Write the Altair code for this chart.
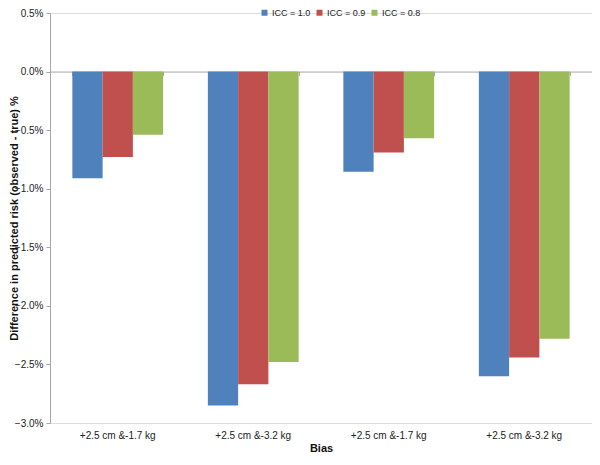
import altair as alt
import pandas as pd

categories = ["+2.5 cm &-1.7 kg", "+2.5 cm &-3.2 kg", "+2.5 cm &-1.7 kg", "+2.5 cm &-3.2 kg"]
series = ["ICC = 1.0", "ICC = 0.9", "ICC = 0.8"]
icc_10 = [-0.0091, -0.0285, -0.00855, -0.0260]
icc_09 = [-0.0073, -0.0267, -0.0069, -0.0244]
icc_08 = [-0.0054, -0.0248, -0.0057, -0.0228]
colors = ["#4F81BD", "#C0504D", "#9BBB59"]
y_ticks = [0.005, 0.0, -0.005, -0.01, -0.015, -0.02, -0.025, -0.03]

rows = []
for s, vals in zip(series, [icc_10, icc_09, icc_08]):
    for i, v in enumerate(vals):
        rows.append({"group": i, "icc": s, "value": v})
df = pd.DataFrame(rows)

H = 410
W = 542
PAD_TOP = 5
ymin, ymax = -0.03, 0.005
zero_offset = -H * (0 - ymin) / (ymax - ymin)

label_expr = "[" + ",".join("'" + c + "'" for c in categories) + "][datum.value]"
FONT = "Liberation Sans"
GRAY = "#A6A6A6"

yenc = alt.Y("value:Q",
             scale=alt.Scale(domain=[ymin, ymax], nice=False, zero=False),
             axis=alt.Axis(values=y_ticks, format=".1%", grid=False,
                           title="Difference in predicted risk (observed - true) %",
                           titleFontWeight="bold", titleFontSize=11, titleFont=FONT,
                           titleColor="#111", titleX=-36, titleY=H / 2,
                           titleAngle=270, titleBaseline="middle", titleAlign="center",
                           labelFontSize=10, labelFont=FONT, labelColor="#222",
                           domainColor=GRAY, tickColor=GRAY, tickSize=4,
                           labelPadding=3))

bars = alt.Chart(df).mark_bar().encode(
    x=alt.X("group:N", scale=alt.Scale(paddingInner=0.33, paddingOuter=0.165),
            axis=alt.Axis(orient="bottom", labelExpr=label_expr, labelAngle=0,
                          domain=False, ticks=False, tickSize=0, labelPadding=7,
                          labelFontSize=10, labelFont=FONT, labelColor="#222",
                          labelBaseline="top",
                          title="Bias", titleFontWeight="bold", titleFontSize=11,
                          titleFont=FONT, titleColor="#111", titlePadding=2)),
    xOffset=alt.XOffset("icc:N", sort=series, scale=alt.Scale(domain=series, paddingInner=0, paddingOuter=0)),
    y=yenc,
    color=alt.Color("icc:N", scale=alt.Scale(domain=series, range=colors),
                    legend=alt.Legend(orient="none", direction="horizontal",
                                      legendX=210, legendY=-PAD_TOP, title=None,
                                      symbolType="square", symbolSize=36,
                                      symbolStrokeWidth=0, labelFontSize=9,
                                      labelFont=FONT, labelColor="#222",
                                      columnPadding=4, labelOffset=3)),
)

zero_axis = alt.Chart(df).mark_bar(opacity=0).encode(
    x=alt.X("group:N", scale=alt.Scale(paddingInner=0.33, paddingOuter=0.165),
            axis=alt.Axis(orient="bottom", offset=zero_offset, labels=False,
                          title=None, domain=True, domainColor=GRAY,
                          ticks=True, tickColor=GRAY, tickSize=4,
                          tickBand="extent")),
    y=alt.Y("value:Q", scale=alt.Scale(domain=[ymin, ymax], nice=False, zero=False)),
)

chart = alt.layer(bars, zero_axis).resolve_axis(x="independent").properties(
    width=W, height=H,
    autosize=alt.AutoSizeParams(type="none"),
    padding={"left": 42, "top": PAD_TOP, "right": 0, "bottom": 30},
).configure_view(stroke=None).configure(font=FONT)

chart.save("out.html", embed_options={"renderer": "svg", "actions": False})
